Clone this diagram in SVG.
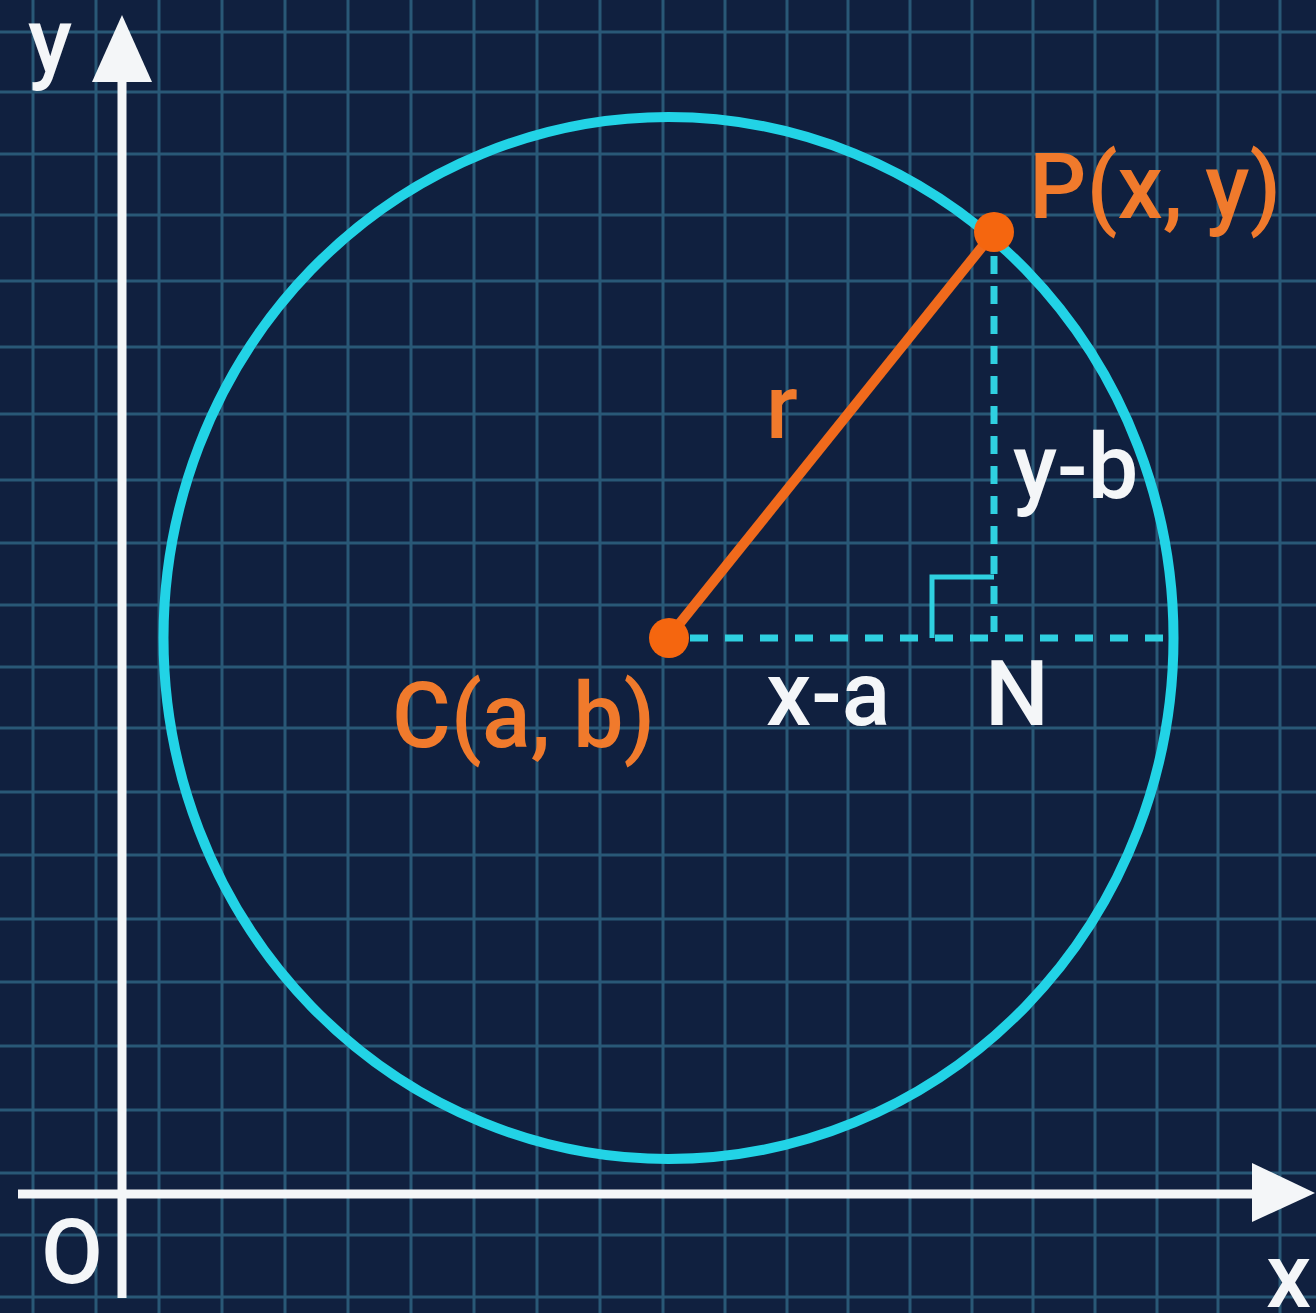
<svg xmlns="http://www.w3.org/2000/svg" width="1316" height="1313" viewBox="0 0 1316 1313">
<style>
.grid line{stroke:#295877;stroke-width:3}
.axis{stroke:#f4f6f8;stroke-width:9;fill:none}
.ah{fill:#f4f6f8}
.lbl{font-family:Roboto,"Liberation Sans",sans-serif;font-size:90px;font-weight:500}
.w{fill:#f4f6f8}
.o{fill:#f07a2c}
.dash{stroke:#2fd0e0;stroke-width:7;fill:none}
</style>
<rect x="0" y="0" width="1316" height="1313" fill="#10203f"/>
<g class="grid" id="grid">
<line x1="33" y1="0" x2="33" y2="1313"/><line x1="96" y1="0" x2="96" y2="1313"/><line x1="159" y1="0" x2="159" y2="1313"/><line x1="222" y1="0" x2="222" y2="1313"/><line x1="285" y1="0" x2="285" y2="1313"/><line x1="348" y1="0" x2="348" y2="1313"/><line x1="411" y1="0" x2="411" y2="1313"/><line x1="474" y1="0" x2="474" y2="1313"/><line x1="537" y1="0" x2="537" y2="1313"/><line x1="600" y1="0" x2="600" y2="1313"/><line x1="663" y1="0" x2="663" y2="1313"/><line x1="725" y1="0" x2="725" y2="1313"/><line x1="787" y1="0" x2="787" y2="1313"/><line x1="848" y1="0" x2="848" y2="1313"/><line x1="910" y1="0" x2="910" y2="1313"/><line x1="972" y1="0" x2="972" y2="1313"/><line x1="1033" y1="0" x2="1033" y2="1313"/><line x1="1095" y1="0" x2="1095" y2="1313"/><line x1="1157" y1="0" x2="1157" y2="1313"/><line x1="1218" y1="0" x2="1218" y2="1313"/><line x1="1280" y1="0" x2="1280" y2="1313"/>
<line x1="0" y1="32" x2="1316" y2="32"/><line x1="0" y1="92" x2="1316" y2="92"/><line x1="0" y1="154" x2="1316" y2="154"/><line x1="0" y1="215" x2="1316" y2="215"/><line x1="0" y1="281" x2="1316" y2="281"/><line x1="0" y1="347" x2="1316" y2="347"/><line x1="0" y1="414" x2="1316" y2="414"/><line x1="0" y1="480" x2="1316" y2="480"/><line x1="0" y1="543" x2="1316" y2="543"/><line x1="0" y1="605" x2="1316" y2="605"/><line x1="0" y1="667" x2="1316" y2="667"/><line x1="0" y1="728" x2="1316" y2="728"/><line x1="0" y1="792" x2="1316" y2="792"/><line x1="0" y1="855" x2="1316" y2="855"/><line x1="0" y1="919" x2="1316" y2="919"/><line x1="0" y1="982" x2="1316" y2="982"/><line x1="0" y1="1046" x2="1316" y2="1046"/><line x1="0" y1="1110" x2="1316" y2="1110"/><line x1="0" y1="1173" x2="1316" y2="1173"/><line x1="0" y1="1235" x2="1316" y2="1235"/><line x1="0" y1="1297" x2="1316" y2="1297"/>
</g>
<g id="axes">
<line class="axis" x1="122" y1="1298" x2="122" y2="70"/>
<polygon class="ah" points="122,15 152,82 92,82"/>
<line class="axis" x1="18" y1="1194" x2="1262" y2="1194"/>
<polygon class="ah" points="1315,1193 1252,1222 1252,1163"/>
<text class="lbl w" x="28" y="72">y</text>
<text class="lbl w" x="72" y="1283" text-anchor="middle">O</text>
<text class="lbl w" x="1266" y="1307">x</text>
</g>
<g id="circle">
<ellipse cx="668.5" cy="638" rx="505" ry="521" fill="none" stroke="#22d3e6" stroke-width="10"/>
</g>
<g id="connectors">
<line class="dash" x1="690" y1="638" x2="1168" y2="638" stroke-dasharray="18 17"/>
<line class="dash" x1="994" y1="256" x2="994" y2="632" stroke-dasharray="18 12"/>
<path d="M932 638 V577 H994" fill="none" stroke="#2fd0e0" stroke-width="5"/>
<line x1="668" y1="638" x2="994" y2="232" stroke="#f06a1c" stroke-width="10"/>
</g>
<g id="node-C">
<circle cx="669" cy="638" r="20" fill="#f5660f"/>
<text class="lbl o" x="392" y="747">C(a, b)</text>
</g>
<g id="node-P">
<circle cx="994" cy="232" r="20" fill="#f5660f"/>
<text class="lbl o" x="1029" y="218">P(x, y)</text>
</g>
<g id="labels">
<text class="lbl o" x="766" y="438">r</text>
<text class="lbl w" x="766" y="725">x-a</text>
<text class="lbl w" x="985" y="725">N</text>
<text class="lbl w" x="1013" y="498">y-b</text>
</g>
</svg>
